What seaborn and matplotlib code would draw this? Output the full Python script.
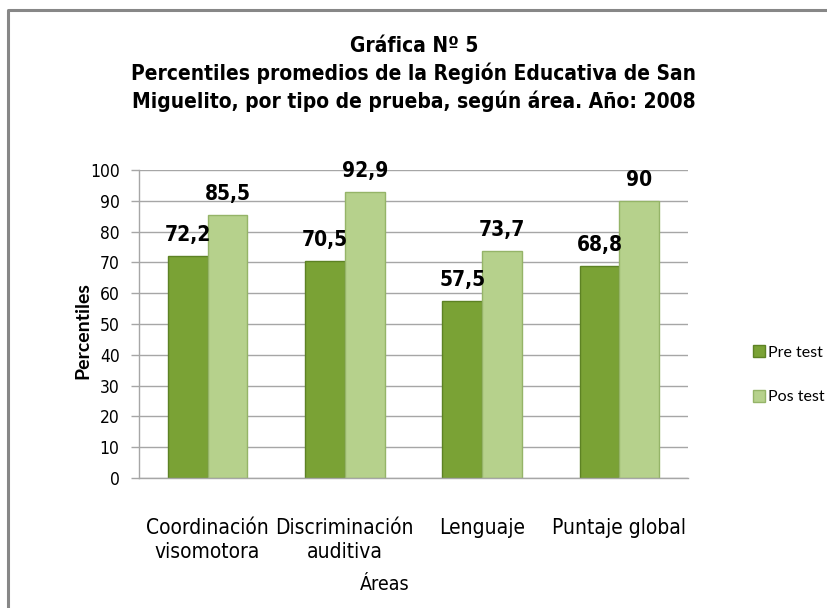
import pandas as pd
import matplotlib.pyplot as plt
import seaborn as sns
from matplotlib.lines import Line2D

sns.set_theme(style="white")

plt.rcParams['font.family'] = ['DejaVu Sans']
plt.rcParams['font.stretch'] = 'condensed'
plt.rcParams['text.color'] = 'black'
plt.rcParams['axes.labelcolor'] = 'black'
plt.rcParams['xtick.color'] = 'black'
plt.rcParams['ytick.color'] = 'black'

areas = ["Coordinación\nvisomotora", "Discriminación\nauditiva", "Lenguaje", "Puntaje global"]
pre_test = [72.2, 70.5, 57.5, 68.8]
pos_test = [85.5, 92.9, 73.7, 90.0]
series = ["Pre test", "Pos test"]
y_ticks = list(range(0, 101, 10))

colors = ["#7aa235", "#b6d18c"]
edges = ["#5d8224", "#95b468"]

df = pd.DataFrame({
    "area": areas * 2,
    "valor": pre_test + pos_test,
    "prueba": [series[0]] * len(areas) + [series[1]] * len(areas),
})

fig = plt.figure(figsize=(8.28, 6.08), dpi=100)
ax = fig.add_axes([139 / 828, 1 - 478 / 608, 549 / 828, 308 / 608])

sns.barplot(data=df, x="area", y="valor", hue="prueba", palette=colors,
            width=0.58, gap=0, ax=ax, legend=False, saturation=1)

for i, cont in enumerate(ax.containers):
    for bar in cont:
        bar.set_edgecolor(edges[i])
        bar.set_linewidth(1.0)
    vals = pre_test if i == 0 else pos_test
    labels = [f"{v:g}".replace(".", ",") for v in vals]
    ax.bar_label(cont, labels=labels, padding=8, fontsize=15, fontweight="bold",
                 color="black")

ax.set_ylim(0, 100)
ax.set_yticks(y_ticks)
ax.set_xlim(-0.5, 3.5)
ax.yaxis.grid(True, color="#a6a6a6", linewidth=1)
ax.set_axisbelow(True)
for s in ["top", "right"]:
    ax.spines[s].set_visible(False)
for s in ["left", "bottom"]:
    ax.spines[s].set_color("#a6a6a6")
    ax.spines[s].set_linewidth(1)

ax.tick_params(axis="y", which="both", left=True, length=6, width=1, color="#a6a6a6",
               labelsize=12.5, pad=8)
ax.tick_params(axis="x", bottom=False, labelsize=15, pad=23)
for lab in ax.get_xticklabels():
    lab.set_linespacing(1.25)

ax.set_xlabel("Áreas", fontsize=14)
ax.xaxis.set_label_coords((385 - 139) / 549, (478 - 575) / 308)
ax.set_ylabel("Percentiles", fontsize=14, fontweight="bold", family=["Lato", "DejaVu Sans"],
              fontstretch="normal")
ax.yaxis.set_label_coords((91 - 139) / 549, 0.48)

handles = [Line2D([0], [0], marker="s", linestyle="", markersize=8,
                  markerfacecolor=colors[i], markeredgecolor=edges[i]) for i in range(2)]
fig.legend(handles, series, loc="center left", bbox_to_anchor=(745 / 828, 1 - 375 / 608),
           frameon=False, prop={"family": ["Lato", "DejaVu Sans"], "size": 11.5, "stretch": "normal"},
           handletextpad=0.15, labelspacing=1.9, handlelength=0.8, borderpad=0)

fig.text(0.5, 1 - 74 / 608,
         "Gráfica Nº 5\nPercentiles promedios de la Región Educativa de San\n"
         "Miguelito, por tipo de prueba, según área. Año: 2008",
         ha="center", va="center", fontsize=15, fontweight="bold", linespacing=1.4)

# chart frame (only top and left edges are visible in the original)
fig.add_artist(Line2D([8 / 828, 8 / 828, 1], [0, 1 - 10 / 608, 1 - 10 / 608],
                      color="#878787", linewidth=2.2, transform=fig.transFigure))

fig.savefig("out.png", dpi=100)
